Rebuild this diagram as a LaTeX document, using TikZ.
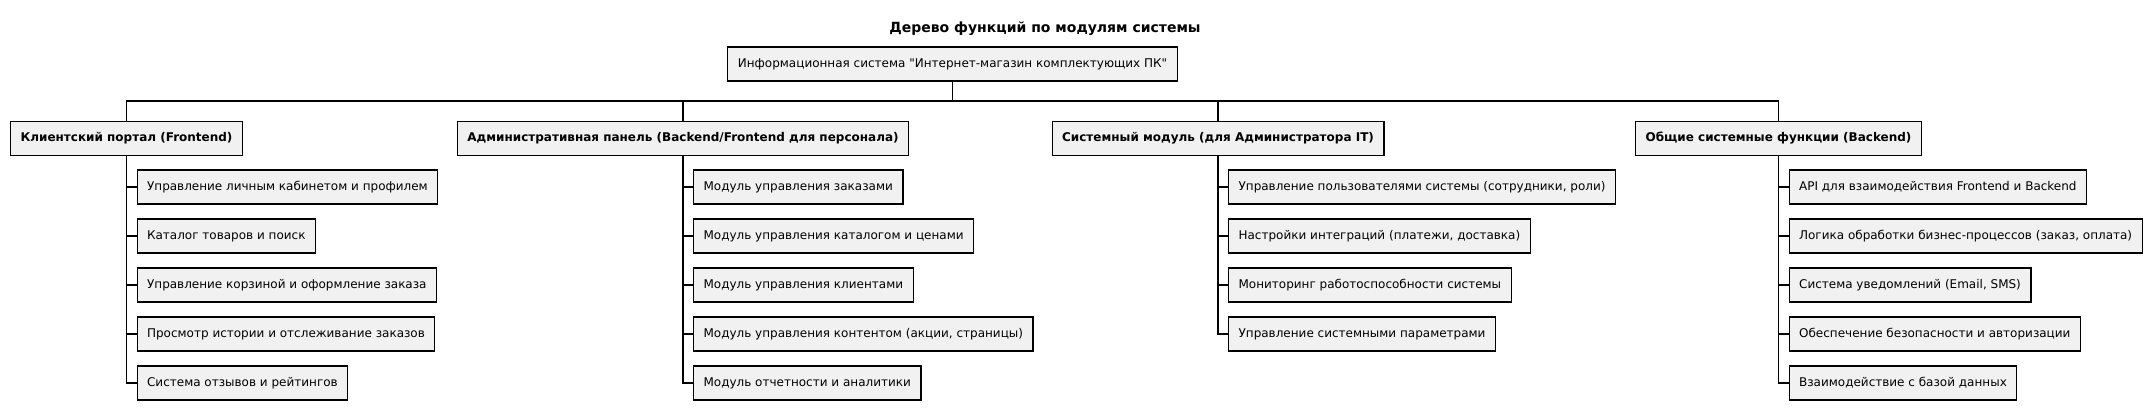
\documentclass[tikz,border=0pt]{standalone}
\usepackage{fontspec}
\setmainfont{DejaVu Sans}
\newfontfamily\quotefont{DejaVu Sans}
\definecolor{boxfill}{RGB}{241,241,241}
\tikzset{
  box/.style={draw=black, line width=1.2pt, fill=boxfill, inner xsep=10pt, inner ysep=0pt,
    minimum height=34pt, font=\fontsize{12}{14}\selectfont, text height=9pt, text depth=2.5pt},
  lone/.style={box, font=\fontsize{12}{14}\selectfont\bfseries},
  leaf/.style={box, anchor=west},
  conn/.style={draw=black, line width=1.1pt},
}
\begin{document}
\begin{tikzpicture}[x=1pt,y=-1pt]
\useasboundingbox (0,0) rectangle (2151,410);
\node[font=\fontsize{14}{16}\selectfont\bfseries] (title) at (1045,29) {Дерево функций по модулям системы};
\node[box, font=\fontsize{12}{14}\selectfont\quotefont] (root) at (952.5,64) {Информационная система "Интернет-магазин комплектующих ПК"};
\coordinate (bus) at (0,101);

\node[lone] (client) at (126.5,138.5) {Клиентский портал (Frontend)};
\node[lone] (admin) at (683,138.5) {Административная панель (Backend/Frontend для персонала)};
\node[lone] (sys) at (1218,138.5) {Системный модуль (для Администратора IT)};
\node[lone] (common) at (1778.5,138.5) {Общие системные функции (Backend)};

\node[leaf] (c1) at (136.5,187) {Управление личным кабинетом и профилем};
\node[leaf] (c2) at (136.5,236) {Каталог товаров и поиск};
\node[leaf] (c3) at (136.5,285) {Управление корзиной и оформление заказа};
\node[leaf] (c4) at (136.5,334) {Просмотр истории и отслеживание заказов};
\node[leaf] (c5) at (136.5,383) {Система отзывов и рейтингов};

\node[leaf] (a1) at (693,187) {Модуль управления заказами};
\node[leaf] (a2) at (693,236) {Модуль управления каталогом и ценами};
\node[leaf] (a3) at (693,285) {Модуль управления клиентами};
\node[leaf] (a4) at (693,334) {Модуль управления контентом (акции, страницы)};
\node[leaf] (a5) at (693,383) {Модуль отчетности и аналитики};

\node[leaf] (s1) at (1228,187) {Управление пользователями системы (сотрудники, роли)};
\node[leaf] (s2) at (1228,236) {Настройки интеграций (платежи, доставка)};
\node[leaf] (s3) at (1228,285) {Мониторинг работоспособности системы};
\node[leaf] (s4) at (1228,334) {Управление системными параметрами};

\node[leaf] (g1) at (1788.5,187) {API для взаимодействия Frontend и Backend};
\node[leaf] (g2) at (1788.5,236) {Логика обработки бизнес-процессов (заказ, оплата)};
\node[leaf] (g3) at (1788.5,285) {Система уведомлений (Email, SMS)};
\node[leaf] (g4) at (1788.5,334) {Обеспечение безопасности и авторизации};
\node[leaf] (g5) at (1788.5,383) {Взаимодействие с базой данных};

\draw[conn] (root.south) -- (root.south |- bus);
\draw[conn] (client.north) -- (client.north |- bus) -- (common.north |- bus) -- (common.north);
\draw[conn] (admin.north) -- (admin.north |- bus);
\draw[conn] (sys.north) -- (sys.north |- bus);

\draw[conn] (client.south) |- (c5.west);
\foreach \n in {c1,c2,c3,c4} \draw[conn] (\n.west) -- (\n.west -| client.south);
\draw[conn] (admin.south) |- (a5.west);
\foreach \n in {a1,a2,a3,a4} \draw[conn] (\n.west) -- (\n.west -| admin.south);
\draw[conn] (sys.south) |- (s4.west);
\foreach \n in {s1,s2,s3} \draw[conn] (\n.west) -- (\n.west -| sys.south);
\draw[conn] (common.south) |- (g5.west);
\foreach \n in {g1,g2,g3,g4} \draw[conn] (\n.west) -- (\n.west -| common.south);
\end{tikzpicture}
\end{document}
